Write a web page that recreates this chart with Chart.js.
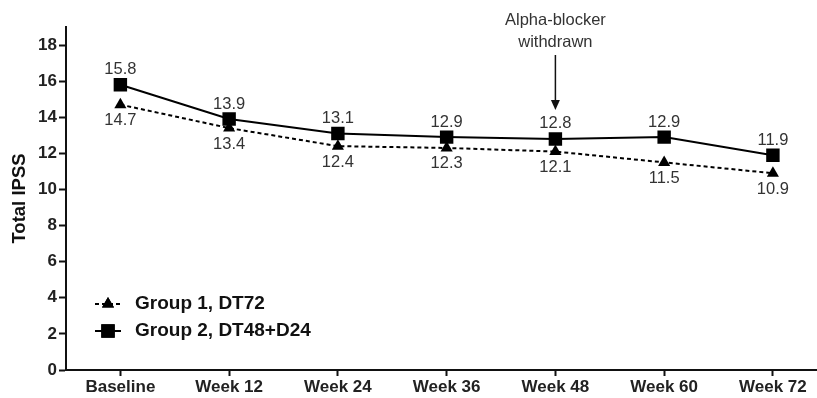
<!DOCTYPE html>
<html>
<head>
<meta charset="utf-8">
<script src="https://cdn.jsdelivr.net/npm/chart.js@4"></script>
<style>
  html, body { margin: 0; padding: 0; background: #fff; overflow: hidden; }
  canvas { display: block; }
</style>
</head>
<body>
<canvas id="chart" width="827" height="398"></canvas>
<script>
const visits = ['Baseline', 'Week 12', 'Week 24', 'Week 36', 'Week 48', 'Week 60', 'Week 72'];
const group1 = [14.7, 13.4, 12.4, 12.3, 12.1, 11.5, 10.9];
const group2 = [15.8, 13.9, 13.1, 12.9, 12.8, 12.9, 11.9];
const seriesNames = ['Group 1, DT72', 'Group 2, DT48+D24'];
const yTicks = [0, 2, 4, 6, 8, 10, 12, 14, 16, 18];
const noteLines = ['Alpha-blocker', 'withdrawn'];
const noteAt = 4; // index of Week 48

const FONT = '"Liberation Sans", Arial, sans-serif';

// value labels: group 2 above its squares, group 1 below its triangles
const valueLabels = {
    id: 'valueLabels',
    afterDatasetsDraw(chart) {
        const ctx = chart.ctx;
        ctx.save();
        ctx.font = '16.5px ' + FONT;
        ctx.fillStyle = '#333';
        ctx.textAlign = 'center';
        ctx.textBaseline = 'middle';
        chart.data.datasets.forEach((ds, i) => {
            chart.getDatasetMeta(i).data.forEach((pt, j) => {
                const dy = i === 1 ? -15 : 16;
                ctx.fillText(ds.data[j].y.toFixed(1), pt.x, pt.y + dy);
            });
        });
        ctx.restore();
    }
};

// "Alpha-blocker withdrawn" note with arrow
const note = {
    id: 'note',
    afterDraw(chart) {
        const ctx = chart.ctx;
        const x = chart.scales.x.getPixelForValue(noteAt);
        const tip = chart.scales.y.getPixelForValue(group2[noteAt]) - 29;
        ctx.save();
        ctx.font = '16.5px ' + FONT;
        ctx.fillStyle = '#333';
        ctx.textAlign = 'center';
        ctx.textBaseline = 'middle';
        noteLines.forEach((t, k) => ctx.fillText(t, x, 20 + k * 22));
        ctx.strokeStyle = '#111';
        ctx.lineWidth = 1.5;
        ctx.beginPath();
        ctx.moveTo(x, 55);
        ctx.lineTo(x, tip - 4);
        ctx.stroke();
        ctx.fillStyle = '#111';
        ctx.beginPath();
        ctx.moveTo(x, tip);
        ctx.lineTo(x - 4.5, tip - 10);
        ctx.lineTo(x + 4.5, tip - 10);
        ctx.closePath();
        ctx.fill();
        ctx.restore();
    }
};

// legend drawn inside the plot, lower left
const insideLegend = {
    id: 'insideLegend',
    afterDraw(chart) {
        const ctx = chart.ctx;
        const area = chart.chartArea;
        const x0 = area.left + 29;
        ctx.save();
        chart.data.datasets.forEach((ds, i) => {
            const y = area.bottom - 66 + i * 27;
            ctx.strokeStyle = '#000';
            ctx.lineWidth = 2;
            ctx.setLineDash(ds.borderDash || []);
            ctx.beginPath();
            ctx.moveTo(x0, y);
            ctx.lineTo(x0 + 26, y);
            ctx.stroke();
            ctx.setLineDash([]);
            ctx.fillStyle = '#000';
            Chart.helpers.drawPoint(ctx, {
                pointStyle: ds.pointStyle,
                radius: ds.pointRadius,
                rotation: 0,
                borderWidth: 0
            }, x0 + 13, y);
            ctx.fill();
            ctx.font = 'bold 19px ' + FONT;
            ctx.fillStyle = '#111';
            ctx.textAlign = 'left';
            ctx.textBaseline = 'middle';
            ctx.fillText(seriesNames[i], x0 + 40, y);
        });
        ctx.restore();
    }
};

new Chart(document.getElementById('chart'), {
    type: 'line',
    data: {
        datasets: [
            {
                label: seriesNames[0],
                data: group1.map((v, i) => ({ x: i, y: v })),
                borderColor: '#000',
                backgroundColor: '#000',
                borderWidth: 2,
                borderDash: [4, 3],
                pointStyle: 'triangle',
                pointRadius: 7,
                pointBorderWidth: 0,
                tension: 0
            },
            {
                label: seriesNames[1],
                data: group2.map((v, i) => ({ x: i, y: v })),
                borderColor: '#000',
                backgroundColor: '#000',
                borderWidth: 2,
                pointStyle: 'rect',
                pointRadius: 9.5,
                pointBorderWidth: 0,
                tension: 0
            }
        ]
    },
    options: {
        responsive: false,
        animation: false,
        events: [],
        layout: { padding: { top: 27, right: 0, left: 0, bottom: 0 } },
        plugins: {
            legend: { display: false },
            tooltip: { enabled: false }
        },
        scales: {
            x: {
                type: 'linear',
                min: -0.5,
                max: 6.41,
                afterBuildTicks: scale => { scale.ticks = visits.map((_, i) => ({ value: i })); },
                afterFit: scale => { scale.height = 28; },
                grid: { drawOnChartArea: false, tickLength: 6, tickWidth: 2, color: '#111' },
                border: { color: '#111', width: 2 },
                ticks: {
                    autoSkip: false,
                    maxRotation: 0,
                    padding: 1,
                    color: '#222',
                    font: { family: FONT, size: 17, weight: 'bold' },
                    callback: v => visits[v]
                }
            },
            y: {
                min: 0,
                max: 19,
                afterBuildTicks: scale => { scale.ticks = yTicks.map(v => ({ value: v })); },
                afterFit: scale => { scale.width = 66; },
                grid: { drawOnChartArea: false, tickLength: 7, tickWidth: 2, color: '#111' },
                border: { color: '#111', width: 2 },
                title: {
                    display: true,
                    text: 'Total IPSS',
                    color: '#111',
                    padding: { top: 9, bottom: 0 },
                    font: { family: FONT, size: 18.5, weight: 'bold' }
                },
                ticks: {
                    padding: 2,
                    color: '#222',
                    font: { family: FONT, size: 17, weight: 'bold' }
                }
            }
        }
    },
    plugins: [valueLabels, note, insideLegend]
});
</script>
</body>
</html>
